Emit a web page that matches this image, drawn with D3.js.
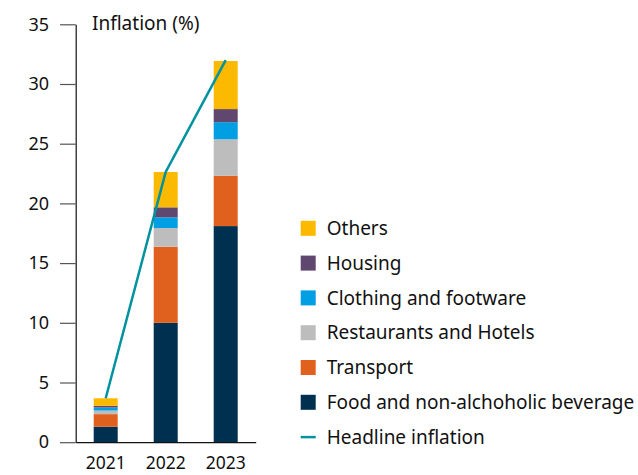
<!DOCTYPE html>
<html>
<head>
<meta charset="utf-8">
<script src="https://cdn.jsdelivr.net/npm/d3@7"></script>
<style>
  html, body { margin: 0; padding: 0; background: #fff; }
  svg { display: block; }
  text { font-family: "Noto Sans", "Open Sans", sans-serif; fill: #111; }
</style>
</head>
<body>
<svg id="chart" width="638" height="475"></svg>
<script>
const years = ["2021", "2022", "2023"];
const seriesNames = ["Food and non-alchoholic beverage", "Transport", "Restaurants and Hotels", "Clothing and footware", "Housing", "Others"];
const seriesColors = ["#00304f", "#e0601d", "#bdbdbd", "#009fe3", "#60476f", "#fbb900"];
const food = [1.3, 10.0, 18.1];
const transport = [1.05, 6.37, 4.22];
const restaurants = [0.3, 1.57, 3.05];
const clothing = [0.25, 0.89, 1.43];
const housing = [0.15, 0.84, 1.1];
const others = [0.63, 2.96, 4.03];
const headline = [3.68, 22.63, 32.0];
const yTicks = [0, 5, 10, 15, 20, 25, 30, 35];
const headlineName = "Headline inflation";
const headlineColor = "#00929f";
const yTitle = "Inflation (%)";

const seriesValues = [food, transport, restaurants, clothing, housing, others];
const table = years.map((y, i) => {
  const row = { year: y };
  seriesNames.forEach((n, k) => row[n] = seriesValues[k][i]);
  return row;
});

const svg = d3.select("#chart");
const y = d3.scaleLinear().domain([0, 35]).range([442.2, 24.3]);
const x = d3.scaleBand().domain(years).range([75.7, 255.7]).paddingInner(0.6).paddingOuter(0.3);

const stack = d3.stack().keys(seriesNames)(table);

svg.append("g").selectAll("g").data(stack).join("g")
  .attr("fill", (d, i) => seriesColors[i])
  .selectAll("rect").data(d => d).join("rect")
  .attr("x", d => x(d.data.year))
  .attr("width", x.bandwidth())
  .attr("y", d => y(d[1]))
  .attr("height", d => y(d[0]) - y(d[1]));

// y axis
const yAxis = svg.append("g").attr("transform", "translate(75.7,0)")
  .call(d3.axisLeft(y).tickValues(yTicks).tickSize(15.7).tickPadding(11).tickSizeOuter(0));
yAxis.select(".domain").attr("stroke", "#111").attr("stroke-width", 1.2);
yAxis.selectAll(".tick line").attr("stroke", "#555").attr("stroke-width", 1.2);
yAxis.selectAll(".tick text").style("font-size", "18px").attr("fill", "#111");

// x axis
const xAxis = svg.append("g").attr("transform", "translate(0,442.2)")
  .call(d3.axisBottom(x).tickSize(0).tickPadding(14));
xAxis.select(".domain").attr("stroke", "#111").attr("stroke-width", 1.2);
xAxis.selectAll(".tick text").style("font-size", "17.5px").attr("fill", "#111");

// headline line
svg.append("path")
  .datum(headline)
  .attr("fill", "none")
  .attr("stroke", headlineColor)
  .attr("stroke-width", 2.5)
  .attr("d", d3.line().x((d, i) => x(years[i]) + x.bandwidth() / 2).y(d => y(d)));

// title
svg.append("text").attr("x", 92).attr("y", 30).style("font-size", "19px").text(yTitle);

// legend
const legendItems = seriesNames.map((n, i) => ({ name: n, color: seriesColors[i], type: "rect" })).reverse();
legendItems.push({ name: headlineName, color: headlineColor, type: "line" });
const lg = svg.append("g");
legendItems.forEach((d, i) => {
  const cy = 228.3 + i * 34.8;
  if (d.type === "rect") {
    lg.append("rect").attr("x", 300.7).attr("y", cy - 7.5).attr("width", 15).attr("height", 15).attr("fill", d.color);
  } else {
    lg.append("line").attr("x1", 300.7).attr("x2", 315.7).attr("y1", cy).attr("y2", cy)
      .attr("stroke", d.color).attr("stroke-width", 2.5);
  }
  lg.append("text").attr("x", 326.7).attr("y", cy).attr("dy", "0.35em")
    .style("font-size", "19px").text(d.name);
});
</script>
</body>
</html>
